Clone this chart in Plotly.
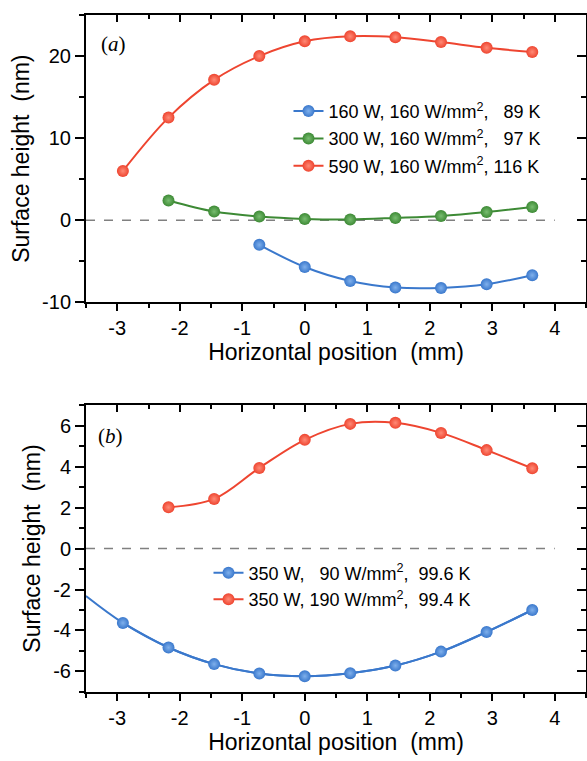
import plotly.graph_objects as go

# ---------------- data ----------------
x_pos = [-2.91, -2.18, -1.45, -0.727, 0.0, 0.727, 1.45, 2.18, 2.91, 3.64]

# panel (a)
a_blue_x = x_pos[3:]
a_blue_y = [-3.0, -5.7, -7.4, -8.2, -8.25, -7.8, -6.7]
a_green_x = x_pos[1:]
a_green_y = [2.4, 1.05, 0.45, 0.16, 0.1, 0.28, 0.52, 1.0, 1.62]
a_red_x = x_pos
a_red_y = [6.0, 12.5, 17.1, 20.0, 21.8, 22.4, 22.3, 21.7, 21.0, 20.5]

# panel (b)
b_blue_x = x_pos
b_blue_y = [-3.63, -4.83, -5.64, -6.1, -6.23, -6.08, -5.71, -5.03, -4.07, -3.0]
b_blue_fit_x = [-3.5] + x_pos          # fitted curve starts at the left edge
b_blue_fit_y = [-2.32] + b_blue_y
b_red_x = x_pos[1:]
b_red_y = [2.01, 2.42, 3.93, 5.30, 6.08, 6.13, 5.64, 4.80, 3.91]

zero_x = [-3.5, 4.0]
zero_y = [0, 0]

a_names = ["160 W, 160 W/mm<sup>2</sup>, \u200789 K",
           "300 W, 160 W/mm<sup>2</sup>, \u200797 K",
           "590 W, 160 W/mm<sup>2</sup>, 116 K"]
b_names = ["350 W, \u200790 W/mm<sup>2</sup>, \u00a099.6 K",
           "350 W, 190 W/mm<sup>2</sup>, \u00a099.4 K"]

x_ticks = [-3, -2, -1, 0, 1, 2, 3, 4]
x_ticktext = ["-3", "-2", "-1", "0", "1", "2", "3", "4"]
a_yticks = [-10, 0, 10, 20]
a_yticktext = ["-10", "0", "10", "20"]
b_yticks = [-6, -4, -2, 0, 2, 4, 6]
b_yticktext = ["-6", "-4", "-2", "0", "2", "4", "6"]

BLUE = "#3a78cc"
GREEN = "#3d8a35"
RED = "#ee4530"
BLUE_HI = "#7fb0ec"
GREEN_HI = "#78bd70"
RED_HI = "#ff8a76"

FONT = "Liberation Sans"
MS = 12

fig = go.Figure()

def add_series(x, y, color, hi, name, xa, ya, legend, group):
    fig.add_trace(go.Scatter(
        x=x, y=y, mode="lines+markers", name=name,
        xaxis=xa, yaxis=ya, legend=legend, legendgroup=group,
        line=dict(color=color, width=2, shape="spline"),
        marker=dict(color=color, size=MS,
                    gradient=dict(type="radial", color=hi),
                    line=dict(width=0)),
        hoverinfo="x+y"))

# zero lines
for xa, ya in (("x", "y"), ("x2", "y2")):
    fig.add_trace(go.Scatter(x=zero_x, y=zero_y, mode="lines", xaxis=xa, yaxis=ya,
                             line=dict(color="#808080", width=1.5, dash="dash"),
                             showlegend=False, hoverinfo="skip"))

add_series(a_blue_x, a_blue_y, BLUE, BLUE_HI, a_names[0], "x", "y", "legend", "a1")
add_series(a_green_x, a_green_y, GREEN, GREEN_HI, a_names[1], "x", "y", "legend", "a2")
add_series(a_red_x, a_red_y, RED, RED_HI, a_names[2], "x", "y", "legend", "a3")

# fitted curve extension for panel (b) blue
fig.add_trace(go.Scatter(x=b_blue_fit_x, y=b_blue_fit_y, mode="lines", xaxis="x2", yaxis="y2",
                         line=dict(color=BLUE, width=2, shape="spline"),
                         showlegend=False, hoverinfo="skip"))
add_series(b_blue_x, b_blue_y, BLUE, BLUE_HI, b_names[0], "x2", "y2", "legend2", "b1")
add_series(b_red_x, b_red_y, RED, RED_HI, b_names[1], "x2", "y2", "legend2", "b2")

# invisible anchors for mirrored (inside-tick) axes
for xa, ya in (("x3", "y3"), ("x4", "y4")):
    fig.add_trace(go.Scatter(x=[0], y=[0], mode="markers", xaxis=xa, yaxis=ya,
                             marker=dict(opacity=0), showlegend=False, hoverinfo="skip"))

axis_common = dict(showline=True, linecolor="black", linewidth=2, showgrid=False,
                   zeroline=False, tickcolor="black", tickwidth=2,
                   tickfont=dict(family=FONT, size=20, color="black"))

XR = [-3.5, 4.5]
A_DOM = [0.5756, 1.0]
B_DOM = [0.0, 0.4239]

xtitle = dict(text="Horizontal position \u00a0(mm)", font=dict(family=FONT, size=23, color="black"), standoff=6)
ytitle = dict(text="Surface height \u00a0(nm)", font=dict(family=FONT, size=23, color="black"), standoff=6)

def minor(kind, d, ln):
    return dict(ticks=kind, dtick=d, tick0=0, ticklen=ln, tickwidth=2, tickcolor="black")

fig.update_layout(
    width=587, height=761,
    margin=dict(l=86, r=1, t=15, b=69),
    paper_bgcolor="white", plot_bgcolor="white",
    font=dict(family=FONT, color="black"),
    xaxis=dict(**axis_common, domain=[0, 1], anchor="y", range=XR,
               tickvals=x_ticks, ticktext=x_ticktext, ticks="outside", ticklen=7,
               minor=minor("outside", 0.5, 4), title=xtitle),
    yaxis=dict(**axis_common, domain=A_DOM, anchor="x", range=[-10, 25],
               tickvals=a_yticks, ticktext=a_yticktext, ticks="outside", ticklen=9,
               minor=minor("outside", 5, 5), title=ytitle),
    xaxis3=dict(**axis_common, overlaying="x", side="top", anchor="y3", range=XR,
                tickvals=x_ticks, ticks="inside", ticklen=7, showticklabels=False,
                minor=minor("inside", 0.5, 4)),
    yaxis3=dict(**axis_common, overlaying="y", side="right", anchor="x3", range=[-10, 25],
                tickvals=a_yticks, ticks="inside", ticklen=9, showticklabels=False,
                minor=minor("inside", 5, 5)),
    xaxis2=dict(**axis_common, domain=[0, 1], anchor="y2", range=XR,
                tickvals=x_ticks, ticktext=x_ticktext, ticks="outside", ticklen=7,
                minor=minor("outside", 0.5, 4), title=xtitle),
    yaxis2=dict(**axis_common, domain=B_DOM, anchor="x2", range=[-7, 7],
                tickvals=b_yticks, ticktext=b_yticktext, ticks="outside", ticklen=9,
                minor=minor("outside", 1, 5), title=ytitle),
    xaxis4=dict(**axis_common, overlaying="x2", side="top", anchor="y4", range=XR,
                tickvals=x_ticks, ticks="inside", ticklen=7, showticklabels=False,
                minor=minor("inside", 0.5, 4)),
    yaxis4=dict(**axis_common, overlaying="y2", side="right", anchor="x4", range=[-7, 7],
                tickvals=b_yticks, ticks="inside", ticklen=9, showticklabels=False,
                minor=minor("inside", 1, 5)),
    legend=dict(x=0.405, xanchor="left", y=0.885, yanchor="top",
                bgcolor="rgba(0,0,0,0)", font=dict(family=FONT, size=18, color="black"),
                tracegroupgap=1, itemwidth=30),
    legend2=dict(x=0.245, xanchor="left", y=0.203, yanchor="top",
                 bgcolor="rgba(0,0,0,0)", font=dict(family=FONT, size=18, color="black"),
                 tracegroupgap=0, itemwidth=30),
    showlegend=True,
    annotations=[
        dict(text="(<i>a</i>)", xref="paper", yref="paper", x=0.026, y=0.957, xanchor="left",
             yanchor="middle", showarrow=False, font=dict(family="Liberation Serif", size=21, color="black")),
        dict(text="(<i>b</i>)", xref="paper", yref="paper", x=0.02, y=0.378, xanchor="left",
             yanchor="middle", showarrow=False, font=dict(family="Liberation Serif", size=21, color="black")),
    ],
)

fig.write_html("out.html")
